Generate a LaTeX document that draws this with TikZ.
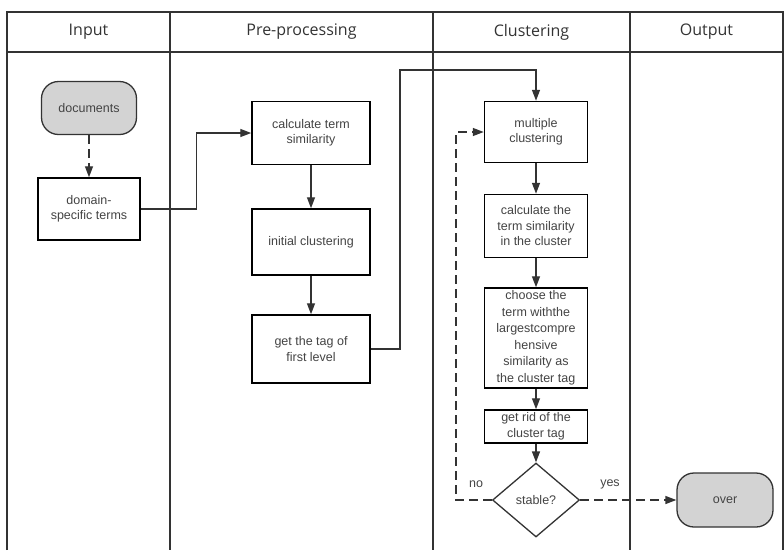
\documentclass[tikz,border=0pt]{standalone}
\usepackage{fontspec}
\setmainfont{Liberation Sans}
\newfontfamily\lanefont{Open Sans}
\usetikzlibrary{arrows.meta,shapes.geometric}
\definecolor{linegray}{HTML}{333333}
\definecolor{textgray}{HTML}{444444}
\definecolor{termgray}{HTML}{D3D3D3}
\tikzset{
    lane-line/.style = {draw=linegray, line width=1.1pt},
    lane-title/.style = {text=linegray, font=\lanefont\fontsize{16}{18}\selectfont},
    step-box/.style = {draw=black, fill=white, line width=1.5pt, rectangle, align=center, text=textgray, font=\fontsize{12.5}{15.5}\selectfont, inner sep=2pt},
    term-box/.style = {draw=linegray, fill=termgray, line width=1.3pt, rounded corners=17pt, text=textgray, font=\fontsize{12.5}{15}\selectfont, minimum width=95pt, minimum height=53pt},
    test-box/.style = {draw=linegray, fill=white, line width=1.3pt, diamond, aspect=1.18, inner sep=1pt, text=textgray, font=\fontsize{12.5}{15}\selectfont, minimum width=87pt, minimum height=74pt},
    flow/.style = {draw=linegray, line width=1.4pt, -{Triangle[length=11pt,width=8pt]}},
    flow-dash/.style = {flow, dash pattern=on 9pt off 5pt},
    branch/.style = {text=textgray, font=\fontsize{12.5}{14}\selectfont},
}
\begin{document}
\begin{tikzpicture}[x=1pt,y=-1pt]
\useasboundingbox (0,0) rectangle (784,550);
% swimlanes
\draw[lane-line] (7,550) -- (7,12) -- (783,12) -- (783,550);
\draw[lane-line] (7,52) -- (783,52);
\foreach \lx in {170,433,630}
    \draw[lane-line] (\lx,12) -- (\lx,550);
\node[lane-title] (input) at (88.5,32) {Input};
\node[lane-title] (prep) at (301.5,32) {Pre-processing};
\node[lane-title] (clus) at (531.5,32) {Clustering};
\node[lane-title] (outp) at (706.5,32) {Output};

% input
\node[term-box] (docs) at (89,108) {documents};
\node[step-box, minimum width=102pt, minimum height=62pt] (terms) at (89,209) {domain-\\specific terms};

% pre-processing
\node[step-box, minimum width=118pt, minimum height=63pt] (termsim) at (311,133) {calculate term\\similarity};
\node[step-box, minimum width=118pt, minimum height=66pt] (initclus) at (311,242) {initial clustering};
\node[step-box, minimum width=118pt, minimum height=68pt] (firsttag) at (311,349) {get the tag of\\first level};

% clustering
\node[step-box, minimum width=103pt, minimum height=61pt] (multiclus) at (536,132) {multiple\\clustering};
\node[step-box, minimum width=103pt, minimum height=63pt] (clussim) at (536,226) {calculate the\\term similarity\\in the cluster};
\node[step-box, minimum width=103pt, minimum height=100pt, font=\fontsize{12.5}{16.5}\selectfont] (choosetag) at (536,338) {choose the\\term withthe\\largestcompre\\hensive\\similarity as\\the cluster tag};
\node[step-box, minimum width=103pt, minimum height=33pt, font=\fontsize{12.5}{16}\selectfont] (ridtag) at (536,426.5) {get rid of the\\cluster tag};
\node[test-box] (stable) at (536,500) {stable?};

% output
\node[term-box, minimum width=96pt, minimum height=54pt] (over) at (725,500) {over};

\coordinate (up) at (400,70);
\coordinate (back) at (456,500);

\draw[flow-dash] (docs) -- (terms);
\draw[flow] (terms.east) -- ++(56,0) |- (termsim.west);
\draw[flow] (termsim) -- (initclus);
\draw[flow] (initclus) -- (firsttag);
\draw[flow] (firsttag.east) -| (up) -| (multiclus.north);
\draw[flow] (multiclus) -- (clussim);
\draw[flow] (clussim) -- (choosetag);
\draw[flow] (choosetag) -- (ridtag);
\draw[flow] (ridtag) -- (stable);
\draw[flow-dash] (stable.west) -- (back) |- (multiclus.west);
\draw[flow-dash] (stable.east) -- (over.west);
\node[branch] (no) at (476,484) {no};
\node[branch] (yes) at (610,484) {yes};
\end{tikzpicture}
\end{document}
